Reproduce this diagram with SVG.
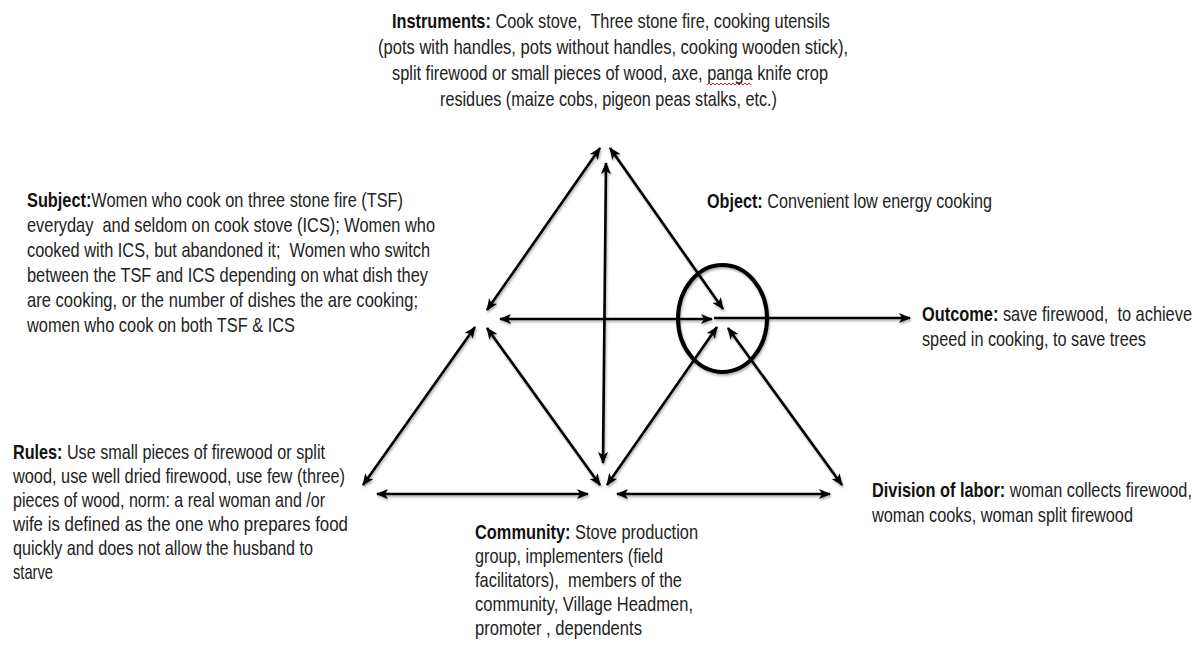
<svg xmlns="http://www.w3.org/2000/svg" width="1201" height="646" viewBox="0 0 1201 646">
  <style>
    text { font-family: "Liberation Sans", Arial, sans-serif; font-size: 20px; fill: #222; white-space: pre; }
    .b { font-weight: bold; fill: #111; }
    .narrow { transform: scale(0.82, 1); }
    .conn { stroke: #000; stroke-width: 2.6; fill: none; }
    .both { marker-start: url(#head); marker-end: url(#head); }
    .end { marker-end: url(#head); }
    .ring { stroke: #000; stroke-width: 4; fill: none; }
  </style>
  <defs>
    <marker id="head" viewBox="0 0 12 10" refX="11" refY="5" markerWidth="12" markerHeight="10" markerUnits="userSpaceOnUse" orient="auto-start-reverse">
      <path d="M0,0 L12,5 L0,10 L3,5 z" fill="#000"/>
    </marker>
    <filter id="shade" x="-10%" y="-10%" width="120%" height="120%">
      <feDropShadow dx="1" dy="2" stdDeviation="1.2" flood-color="#000" flood-opacity="0.3"/>
    </filter>
  </defs>

  <rect width="1201" height="646" fill="#fff"/>

  <!-- activity system triangle: double-headed links between the six corners -->
  <g id="connectors" filter="url(#shade)">
    <line class="conn both" x1="600" y1="148" x2="487" y2="310"/>
    <line class="conn both" x1="610" y1="148" x2="723" y2="309"/>
    <line class="conn both" x1="606" y1="163" x2="603" y2="463"/>
    <line class="conn both" x1="500" y1="319" x2="712" y2="319"/>
    <line class="conn end" x1="714" y1="318" x2="910" y2="318"/>
    <line class="conn both" x1="475" y1="327" x2="363" y2="485"/>
    <line class="conn both" x1="487" y1="328" x2="600" y2="485"/>
    <line class="conn both" x1="377" y1="494" x2="588" y2="494"/>
    <line class="conn both" x1="607" y1="485" x2="717" y2="327"/>
    <line class="conn both" x1="728" y1="328" x2="842" y2="485"/>
    <line class="conn both" x1="617" y1="494" x2="830" y2="494"/>
  </g>

  <g id="object-focus" filter="url(#shade)">
    <ellipse class="ring" cx="722.5" cy="318.5" rx="44.5" ry="53.5"/>
  </g>

  <!-- text blocks are set in a condensed width: x and lengths are in the scaled space (÷0.82) -->
  <g id="instruments">
    <g class="narrow">
      <text x="478.05" y="28" textLength="534.1" lengthAdjust="spacingAndGlyphs"><tspan class="b">Instruments:</tspan> Cook stove,  Three stone fire, cooking utensils</text>
      <text x="460.98" y="54" textLength="573.17" lengthAdjust="spacingAndGlyphs">(pots with handles, pots without handles, cooking wooden stick),</text>
      <text x="478.05" y="80" textLength="531.71" lengthAdjust="spacingAndGlyphs">split firewood or small pieces of wood, axe, panga knife crop</text>
      <text x="536.59" y="106" textLength="410.98" lengthAdjust="spacingAndGlyphs">residues (maize cobs, pigeon peas stalks, etc.)</text>
    </g>
    <polyline points="707,85 709,83 711,85 713,83 715,85 717,83 719,85 721,83 723,85 725,83 727,85 729,83 731,85 733,83 735,85 737,83 739,85 741,83 743,85 745,83 747,85 749,83 751,85" fill="none" stroke="#d22" stroke-width="1"/>
  </g>

  <g id="subject">
    <g class="narrow">
      <text x="32.93" y="207" textLength="458.54" lengthAdjust="spacingAndGlyphs"><tspan class="b">Subject:</tspan>Women who cook on three stone fire (TSF)</text>
      <text x="32.93" y="232" textLength="497.56" lengthAdjust="spacingAndGlyphs">everyday  and seldom on cook stove (ICS); Women who</text>
      <text x="32.93" y="257" textLength="491.46" lengthAdjust="spacingAndGlyphs">cooked with ICS, but abandoned it;  Women who switch</text>
      <text x="32.93" y="282" textLength="489.02" lengthAdjust="spacingAndGlyphs">between the TSF and ICS depending on what dish they</text>
      <text x="32.93" y="307" textLength="476.83" lengthAdjust="spacingAndGlyphs">are cooking, or the number of dishes the are cooking;</text>
      <text x="32.93" y="332" textLength="326.83" lengthAdjust="spacingAndGlyphs">women who cook on both TSF &amp; ICS</text>
    </g>
  </g>

  <g id="object">
    <g class="narrow">
      <text x="862.2" y="208" textLength="347.56" lengthAdjust="spacingAndGlyphs"><tspan class="b">Object:</tspan> Convenient low energy cooking</text>
    </g>
  </g>

  <g id="outcome">
    <g class="narrow">
      <text x="1124.39" y="321" textLength="329.27" lengthAdjust="spacingAndGlyphs"><tspan class="b">Outcome:</tspan> save firewood,  to achieve</text>
      <text x="1124.39" y="346" textLength="273.17" lengthAdjust="spacingAndGlyphs">speed in cooking, to save trees</text>
    </g>
  </g>

  <g id="rules">
    <g class="narrow">
      <text x="15.85" y="459" textLength="380.49" lengthAdjust="spacingAndGlyphs"><tspan class="b">Rules:</tspan> Use small pieces of firewood or split</text>
      <text x="15.85" y="483" textLength="404.88" lengthAdjust="spacingAndGlyphs">wood, use well dried firewood, use few (three)</text>
      <text x="15.85" y="507" textLength="380.49" lengthAdjust="spacingAndGlyphs">pieces of wood, norm: a real woman and /or</text>
      <text x="15.85" y="531" textLength="408.54" lengthAdjust="spacingAndGlyphs">wife is defined as the one who prepares food</text>
      <text x="15.85" y="555" textLength="365.85" lengthAdjust="spacingAndGlyphs">quickly and does not allow the husband to</text>
      <text x="15.85" y="579" textLength="48.78" lengthAdjust="spacingAndGlyphs">starve</text>
    </g>
  </g>

  <g id="community">
    <g class="narrow">
      <text x="579.27" y="539" textLength="271.95" lengthAdjust="spacingAndGlyphs"><tspan class="b">Community:</tspan> Stove production</text>
      <text x="579.27" y="563" textLength="229.27" lengthAdjust="spacingAndGlyphs">group, implementers (field</text>
      <text x="579.27" y="587" textLength="252.44" lengthAdjust="spacingAndGlyphs">facilitators),  members of the</text>
      <text x="579.27" y="611" textLength="265.85" lengthAdjust="spacingAndGlyphs">community, Village Headmen,</text>
      <text x="579.27" y="635" textLength="203.66" lengthAdjust="spacingAndGlyphs">promoter , dependents</text>
    </g>
  </g>

  <g id="division">
    <g class="narrow">
      <text x="1063.41" y="497" textLength="390.24" lengthAdjust="spacingAndGlyphs"><tspan class="b">Division of labor:</tspan> woman collects firewood,</text>
      <text x="1063.41" y="522" textLength="318.29" lengthAdjust="spacingAndGlyphs">woman cooks, woman split firewood</text>
    </g>
  </g>
</svg>
